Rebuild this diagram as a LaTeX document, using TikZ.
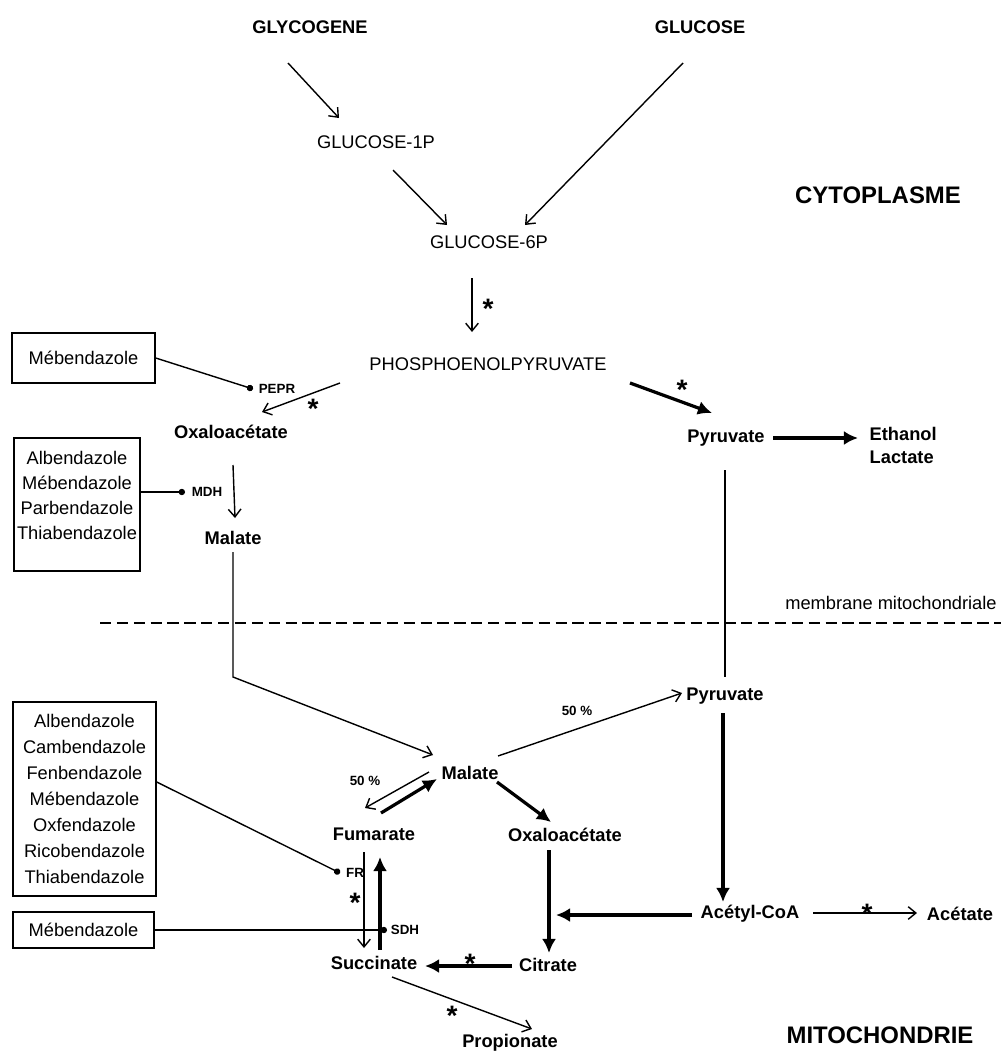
\documentclass[tikz,border=0pt]{standalone}
\usepackage{fontspec}
\setmainfont{Liberation Sans}
\usepackage{tikz}
\usetikzlibrary{arrows.meta, positioning, calc}
\usepackage{xcolor}
\tikzstyle{metab} = [%
  font=\fontsize{13}{16}\selectfont\bfseries,
  inner sep=1pt
]
\tikzstyle{drugbox} = [%
  draw=black,
  line width=1pt,
  align=center,
  inner sep=0pt,
  font=\fontsize{13}{18.4}\selectfont
]

\begin{document}
\begin{tikzpicture}[%
  x=0.025cm, y=-0.025cm,
  every node/.style={%
    font=\fontsize{13}{16}\selectfont,
    text=black,
    align=center
  },
  react/.style={line width=1pt, -{Straight Barb[length=5.5pt,width=9pt]}},
  mainreact/.style={line width=2.3pt, -{Latex[length=10pt,width=10pt]}},
  inhib/.style={line width=1pt, -{Circle[length=4.5pt]}},
  enz/.style={font=\fontsize{9.5}{11}\selectfont\bfseries, inner sep=0.5pt},
  starmark/.style={font=\fontsize{20}{20}\selectfont\bfseries, inner sep=0pt, yshift=-4.3pt},
  compart/.style={font=\fontsize{17}{20}\selectfont\bfseries}
]
  \useasboundingbox (0,0) rectangle (1001,1052);

  % Nodes
  \node[metab] (glycogene) at (310,27) {GLYCOGENE};
  \node[metab] (glucose) at (700,27) {GLUCOSE};
  \node (g1p) at (376,142) {GLUCOSE-1P};
  \node (g6p) at (489,242) {GLUCOSE-6P};
  \node[compart] (cyto) at (878,195) {CYTOPLASME};
  \node (pep) at (488,364) {PHOSPHOENOLPYRUVATE};
  \node[metab] (oaaC) at (231,432) {Oxaloacétate};
  \node[metab] (malC) at (233,538) {Malate};
  \node[metab] (pyrC) at (726,438) {Pyruvate};
  \node[metab, anchor=west, align=left, font=\fontsize{13}{16.3}\selectfont\bfseries] (ethlac) at (868,445) {Ethanol\\Lactate};
  \node (membrane) at (891,603) {membrane mitochondriale};
  \node[metab] (pyrM) at (725,696) {Pyruvate};
  \node[metab] (malM) at (470,773) {Malate};
  \node[metab] (fum) at (374,834) {Fumarate};
  \node[metab] (oaaM) at (565,835) {Oxaloacétate};
  \node[metab] (succ) at (374,963) {Succinate};
  \node[metab] (cit) at (548,965) {Citrate};
  \node[metab] (acoa) at (750,914) {Acétyl-CoA};
  \node[metab] (acet) at (960,914) {Acétate};
  \node[metab] (prop) at (510,1043) {Propionate};
  \node[compart] (mito) at (880,1035) {MITOCHONDRIE};
  \coordinate (merge) at (556,915);

  % Drug boxes
  \node[drugbox, minimum width=3.575cm, minimum height=1.25cm] (mebA) at (83.5,358) {Mébendazole};
  \node[drugbox, minimum width=3.15cm, minimum height=3.325cm] (boxB) at (77,504.5) {};
  \node[font=\fontsize{13}{17.7}\selectfont] (listB) at (77,495.5) {Albendazole\\Mébendazole\\Parbendazole\\Thiabendazole};
  \node[drugbox, minimum width=3.575cm, minimum height=4.85cm] (boxC) at (84.5,799) {Albendazole\\Cambendazole\\Fenbendazole\\Mébendazole\\Oxfendazole\\Ricobendazole\\Thiabendazole};
  \node[drugbox, minimum width=3.525cm, minimum height=0.9cm] (mebD) at (83.5,930) {Mébendazole};

  % Enzymes and labels
  \node[enz] (pepr) at (277,389) {PEPR};
  \node[enz] (mdh) at (207,492) {MDH};
  \node[enz] (fr) at (355,873) {FR};
  \node[enz] (sdh) at (405,930) {SDH};
  \node[enz] (pctA) at (365,781) {50 \%};
  \node[enz] (pctB) at (577,711) {50 \%};
  \node[starmark] (st1) at (488,303) {*};
  \node[starmark] (st2) at (313,403) {*};
  \node[starmark] (st3) at (682,384) {*};
  \node[starmark] (st4) at (867,908) {*};
  \node[starmark] (st5) at (470,958) {*};
  \node[starmark] (st6) at (452,1010) {*};
  \node[starmark] (st7) at (355,897) {*};

  % Membrane
  \draw[line width=1pt, dash pattern=on 8pt off 4pt] (100,623) -- (1001,623);

  % Cytoplasm edges
  \draw[react] ([shift={(-22,36)}]glycogene.center) -- ([shift={(-37,-24)}]g1p.center);
  \draw[react] ([shift={(-17,36)}]glucose.center) -- ([shift={(36,-17)}]g6p.center);
  \draw[react] ([shift={(17,28)}]g1p.center) -- ([shift={(-42,-17)}]g6p.center);
  \draw[react] ([shift={(-17,36)}]g6p.center) -- ([shift={(-16,-32)}]pep.center);
  \draw[react] ([shift={(-148,19)}]pep.center) -- ([shift={(31,-20)}]oaaC.center);
  \draw[mainreact] ([shift={(142,19)}]pep.center) -- ([shift={(-14,-25)}]pyrC.center);
  \draw[react] ([shift={(2,33)}]oaaC.center) -- ([shift={(2,-20)}]malC.center);
  \draw[mainreact] ([shift={(47,0)}]pyrC.center) -- ([shift={(-10,-7)}]ethlac.west);

  % Crossing the membrane
  \draw[react] ([shift={(0,14)}]malC.center) -- ([shift={(0,139)}]malC.center) -- ([shift={(-37,-18)}]malM.center);
  \draw[line width=2pt] ([shift={(-1,32)}]pyrC.center) -- ([shift={(0,-19)}]pyrM.center);

  % Mitochondrion edges
  \draw[react] ([shift={(28,-17)}]malM.center) -- ([shift={(-43,-3)}]pyrM.center);
  \draw[mainreact] ([shift={(-2,17)}]pyrM.center) -- ([shift={(-27,-12)}]acoa.center);
  \draw[mainreact] ([shift={(-58,1)}]acoa.center) -- (merge);
  \draw[react] ([shift={(63,-1)}]acoa.center) -- ([shift={(-43,-1)}]acet.center);
  \draw[mainreact] ([shift={(27,9)}]malM.center) -- ([shift={(-14,-13)}]oaaM.center);
  \draw[mainreact] ([shift={(-16,15)}]oaaM.center) -- ([shift={(1,-12)}]cit.center);
  \draw[mainreact] ([shift={(-36,1)}]cit.center) -- ([shift={(51,3)}]succ.center);
  \draw[react] ([shift={(18,14)}]succ.center) -- ([shift={(22,-14)}]prop.center);
  \draw[react] ([shift={(-41,-1)}]malM.center) -- ([shift={(-9,-26)}]fum.center);
  \draw[mainreact] ([shift={(7,-21)}]fum.center) -- ([shift={(-33,6)}]malM.center);
  \draw[react] ([shift={(-10,18)}]fum.center) -- ([shift={(-10,-15)}]succ.center);
  \draw[mainreact] ([shift={(6,-13)}]succ.center) -- ([shift={(6,23)}]fum.center);

  % Inhibitions
  \draw[inhib] (mebA.east) -- ([shift={(-24,0)}]pepr.center);
  \draw[inhib] (boxB.east |- mdh.center) -- ([shift={(-22,0)}]mdh.center);
  \draw[inhib] ([shift={(0,-17)}]boxC.east) -- ([shift={(-15,0)}]fr.center);
  \draw[inhib] (mebD.east) -- ([shift={(-18,0)}]sdh.center);

\end{tikzpicture}
\end{document}
